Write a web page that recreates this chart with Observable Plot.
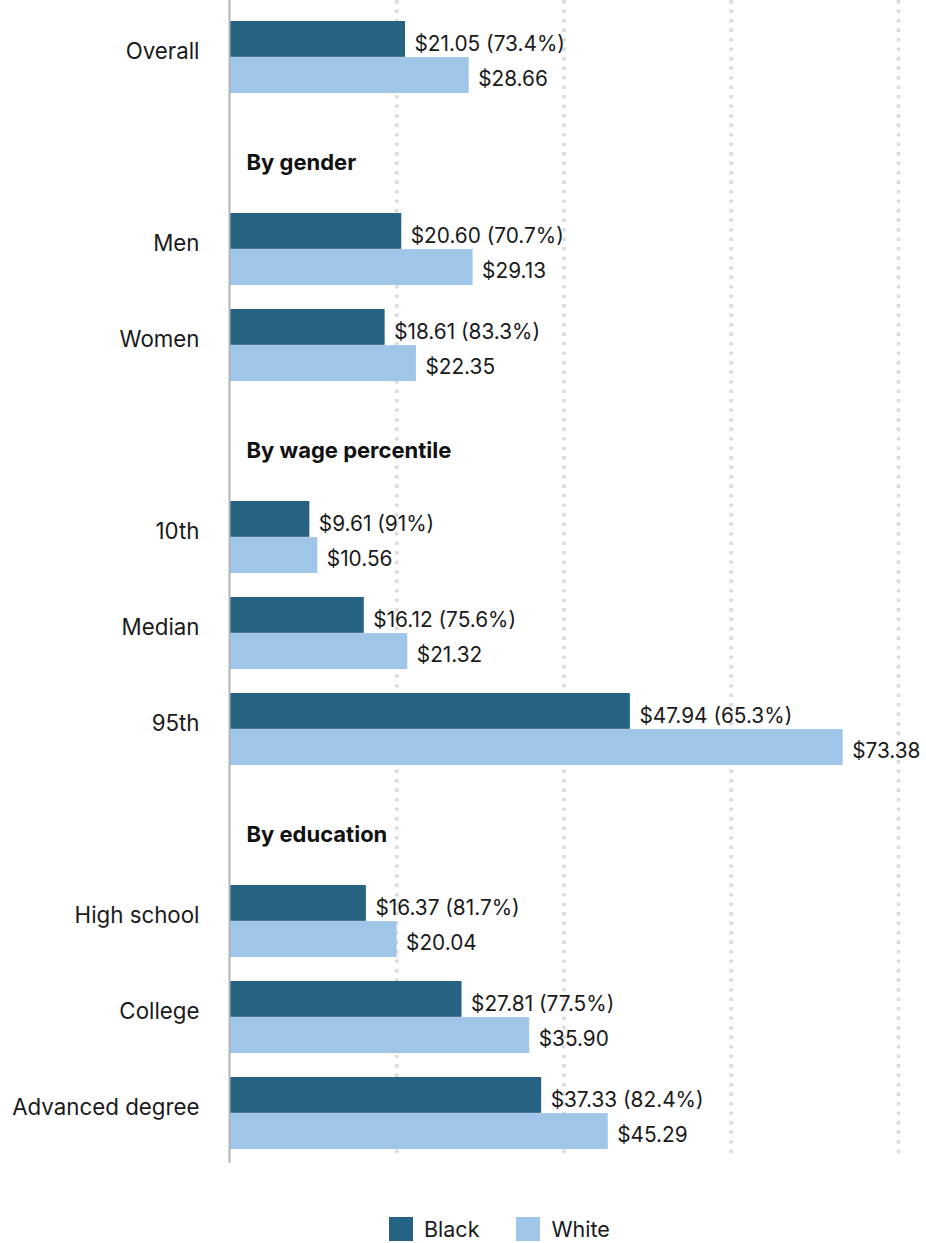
<!DOCTYPE html>
<html><head><meta charset="utf-8">
<script src="https://cdn.jsdelivr.net/npm/d3@7"></script>
<script src="https://cdn.jsdelivr.net/npm/@observablehq/plot@0.6"></script>
<style>
body{margin:0;background:#fff;font-family:Inter, "Noto Sans", sans-serif;color:#1a1a1a;}
#legend{display:flex;align-items:center;padding-left:389px;padding-top:27px;font-size:21.5px;line-height:24px;}
#legend .item{display:flex;align-items:center;margin-right:37px;}
#legend .sw{width:24px;height:24px;margin-right:11px;flex:none;}
</style></head><body><div id="chart"></div><div id="legend"></div>
<script>
const rows = ["Overall","By gender","Men","Women","By wage percentile","10th","Median","95th","By education","High school","College","Advanced degree"];
const headers = ["By gender","By wage percentile","By education"];
const categories = ["Overall","Men","Women","10th","Median","95th","High school","College","Advanced degree"];
const blackWage = [21.05,20.60,18.61,9.61,16.12,47.94,16.37,27.81,37.33];
const whiteWage = [28.66,29.13,22.35,10.56,21.32,73.38,20.04,35.90,45.29];
const ratioLabels = ["73.4%","70.7%","83.3%","91%","75.6%","65.3%","81.7%","77.5%","82.4%"];
const gridTicks = [20,40,60,80];
const races = ["Black","White"];
const colors = ["#266383","#9fc5e8"];

const data = categories.map((c,i)=>({cat:c, black:blackWage[i], white:whiteWage[i], ratio:ratioLabels[i]}));
const font = "Inter, 'Noto Sans', sans-serif";

const chart = Plot.plot({
  width: 926, height: 1190,
  marginLeft: 229, marginRight: 28, marginTop: 4.5, marginBottom: 25,
  x: {domain:[0,80], axis:null},
  y: {domain: rows, paddingInner: 0.252, paddingOuter: 0.126, axis:null},
  style: {fontFamily: font, fontSize: "21px", color:"#1a1a1a", background:"#fff"},
  marks: [
    Plot.ruleX(gridTicks, {stroke:"#dcdcdc", strokeWidth:3.5, strokeDasharray:"3.5,6", insetTop:-4.5, insetBottom:6}),
    Plot.barX(data, {x:"black", y:"cat", fill:colors[0], insetBottom:36.15}),
    Plot.barX(data, {x:"white", y:"cat", fill:colors[1], insetTop:36.15}),
    Plot.ruleX([0], {stroke:"#b3b3b3", strokeWidth:2, insetTop:-4.5, insetBottom:2}),
    Plot.text(data, {x:"black", y:"cat", text:d=>`$${d.black.toFixed(2)} (${d.ratio})`, textAnchor:"start", dx:9, dy:-13, fill:"#1a1a1a", fontSize:20.8}),
    Plot.text(data, {x:"white", y:"cat", text:d=>`$${d.white.toFixed(2)}`, textAnchor:"start", dx:9, dy:21.5, fill:"#1a1a1a", fontSize:20.8}),
    Plot.text(categories, {y:d=>d, frameAnchor:"left", textAnchor:"end", dx:-30, dy:-6, fill:"#1a1a1a", fontSize:22.3}),
    Plot.text(headers, {y:d=>d, frameAnchor:"left", textAnchor:"start", dx:17, dy:9, fontWeight:"bold", fill:"#111", fontSize:22})
  ]
});
document.getElementById("chart").append(chart);

const legend = document.getElementById("legend");
races.forEach((r,i)=>{
  const it = document.createElement("div"); it.className="item";
  const sw = document.createElement("div"); sw.className="sw"; sw.style.background=colors[i];
  const t = document.createElement("span"); t.textContent=r;
  it.append(sw,t); legend.append(it);
});
</script>
</body></html>
